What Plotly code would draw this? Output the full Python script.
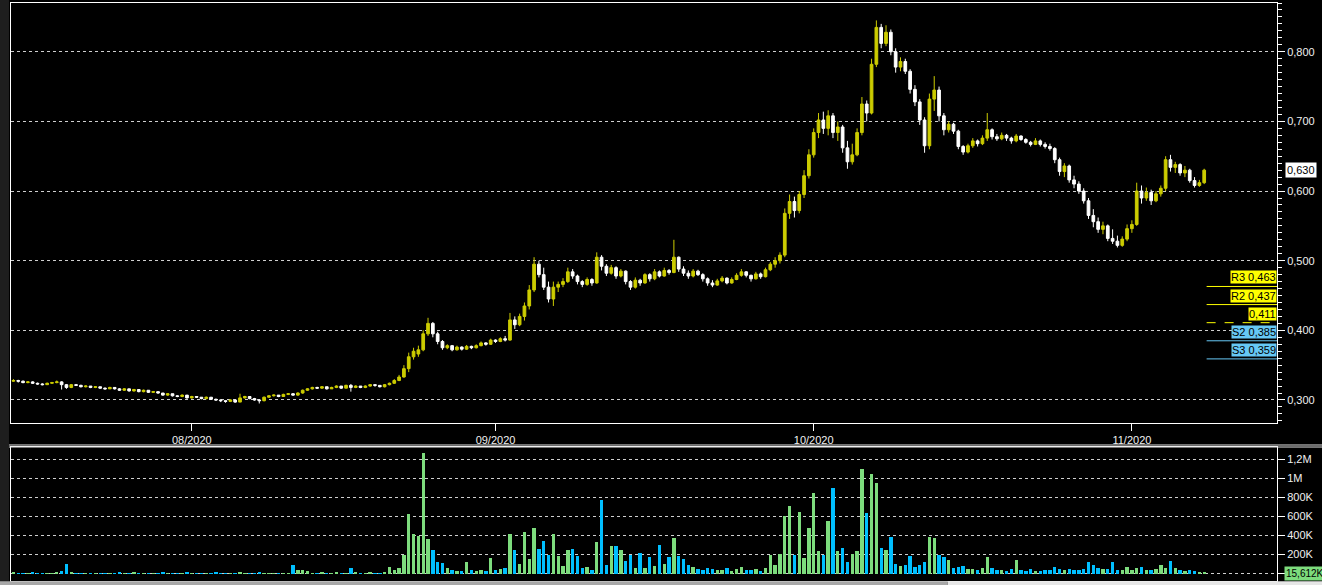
import plotly.graph_objects as go

# ---------------- data ----------------
opens = [
    0.327, 0.328, 0.327, 0.325, 0.326, 0.324, 0.323, 0.322, 0.324, 0.325,
    0.326, 0.322, 0.318, 0.322, 0.321, 0.319, 0.320, 0.318, 0.319, 0.317,
    0.316, 0.318, 0.316, 0.314, 0.316, 0.313, 0.315, 0.312, 0.314, 0.311,
    0.312, 0.310, 0.307, 0.309, 0.306, 0.305, 0.307, 0.303, 0.305, 0.304,
    0.302, 0.304, 0.301, 0.300, 0.299, 0.298, 0.300, 0.297, 0.303, 0.305,
    0.302, 0.300, 0.299, 0.304, 0.306, 0.307, 0.305, 0.308, 0.309, 0.307,
    0.310, 0.314, 0.316, 0.318, 0.317, 0.319, 0.316, 0.318, 0.320, 0.317,
    0.321, 0.318, 0.320, 0.318, 0.320, 0.322, 0.321, 0.319, 0.322, 0.324,
    0.328, 0.333, 0.345, 0.362, 0.366, 0.372, 0.395, 0.410, 0.395, 0.384,
    0.375, 0.378, 0.372, 0.376, 0.373, 0.377, 0.375, 0.378, 0.382, 0.380,
    0.386, 0.384, 0.388, 0.386, 0.415, 0.408, 0.420, 0.435, 0.458, 0.495,
    0.480, 0.462, 0.445, 0.462, 0.466, 0.470, 0.484, 0.478, 0.470, 0.466,
    0.473, 0.468, 0.505, 0.492, 0.482, 0.490, 0.478, 0.485, 0.470, 0.462,
    0.472, 0.468, 0.480, 0.474, 0.484, 0.478, 0.486, 0.483, 0.505, 0.488,
    0.482, 0.478, 0.485, 0.480, 0.474, 0.468, 0.465, 0.471, 0.475, 0.468,
    0.473, 0.479, 0.484, 0.479, 0.474, 0.481, 0.477, 0.487, 0.495, 0.500,
    0.508, 0.568, 0.585, 0.572, 0.595, 0.622, 0.652, 0.684, 0.702, 0.690,
    0.708, 0.684, 0.692, 0.662, 0.642, 0.652, 0.684, 0.725, 0.712, 0.782,
    0.835, 0.812, 0.828, 0.800, 0.778, 0.786, 0.772, 0.746, 0.728, 0.702,
    0.665, 0.732, 0.745, 0.708, 0.688, 0.696, 0.686, 0.664, 0.656, 0.665,
    0.672, 0.668, 0.676, 0.688, 0.678, 0.675, 0.680, 0.676, 0.672, 0.679,
    0.674, 0.670, 0.667, 0.672, 0.667, 0.664, 0.661, 0.645, 0.628, 0.636,
    0.616, 0.610, 0.600, 0.586, 0.565, 0.556, 0.545, 0.550, 0.532, 0.528,
    0.522, 0.531, 0.546, 0.552, 0.600, 0.590, 0.598, 0.586, 0.596, 0.604,
    0.645, 0.634, 0.638, 0.626, 0.630, 0.615, 0.608, 0.612,
]
highs = [
    0.330, 0.329, 0.328, 0.327, 0.327, 0.325, 0.324, 0.325, 0.326, 0.328,
    0.327, 0.323, 0.323, 0.323, 0.322, 0.321, 0.320, 0.320, 0.319, 0.318,
    0.319, 0.318, 0.317, 0.317, 0.316, 0.316, 0.315, 0.315, 0.314, 0.313,
    0.312, 0.310, 0.310, 0.309, 0.307, 0.308, 0.307, 0.306, 0.305, 0.304,
    0.305, 0.304, 0.302, 0.301, 0.299, 0.301, 0.300, 0.309, 0.306, 0.305,
    0.303, 0.301, 0.305, 0.307, 0.308, 0.307, 0.309, 0.310, 0.310, 0.311,
    0.315, 0.317, 0.319, 0.319, 0.320, 0.319, 0.319, 0.321, 0.320, 0.322,
    0.323, 0.321, 0.320, 0.321, 0.323, 0.322, 0.321, 0.323, 0.325, 0.330,
    0.336, 0.350, 0.368, 0.375, 0.378, 0.400, 0.418, 0.412, 0.398, 0.386,
    0.380, 0.379, 0.378, 0.377, 0.379, 0.378, 0.380, 0.384, 0.383, 0.388,
    0.387, 0.390, 0.392, 0.425, 0.420, 0.424, 0.440, 0.465, 0.505, 0.500,
    0.490, 0.470, 0.470, 0.470, 0.475, 0.490, 0.488, 0.480, 0.472, 0.476,
    0.475, 0.512, 0.508, 0.495, 0.494, 0.492, 0.488, 0.486, 0.472, 0.476,
    0.474, 0.482, 0.482, 0.488, 0.486, 0.490, 0.488, 0.530, 0.506, 0.492,
    0.486, 0.488, 0.487, 0.482, 0.476, 0.472, 0.474, 0.478, 0.476, 0.476,
    0.482, 0.488, 0.485, 0.480, 0.484, 0.483, 0.490, 0.498, 0.505, 0.512,
    0.575, 0.595, 0.592, 0.600, 0.630, 0.660, 0.690, 0.712, 0.714, 0.716,
    0.712, 0.700, 0.695, 0.672, 0.668, 0.690, 0.735, 0.730, 0.790, 0.845,
    0.840, 0.838, 0.832, 0.805, 0.792, 0.790, 0.775, 0.752, 0.732, 0.706,
    0.740, 0.765, 0.750, 0.712, 0.700, 0.698, 0.688, 0.666, 0.668, 0.676,
    0.674, 0.680, 0.712, 0.690, 0.682, 0.684, 0.682, 0.678, 0.682, 0.680,
    0.676, 0.672, 0.676, 0.674, 0.670, 0.668, 0.663, 0.648, 0.640, 0.638,
    0.622, 0.614, 0.604, 0.590, 0.574, 0.562, 0.556, 0.552, 0.545, 0.536,
    0.535, 0.552, 0.558, 0.612, 0.608, 0.605, 0.602, 0.600, 0.608, 0.650,
    0.652, 0.642, 0.640, 0.636, 0.632, 0.620, 0.616, 0.632,
]
lows = [
    0.326, 0.325, 0.324, 0.324, 0.323, 0.322, 0.321, 0.322, 0.323, 0.324,
    0.315, 0.316, 0.317, 0.320, 0.318, 0.318, 0.317, 0.317, 0.316, 0.315,
    0.316, 0.315, 0.313, 0.313, 0.312, 0.312, 0.311, 0.311, 0.310, 0.310,
    0.309, 0.306, 0.306, 0.305, 0.304, 0.304, 0.302, 0.302, 0.303, 0.301,
    0.301, 0.300, 0.299, 0.297, 0.296, 0.297, 0.296, 0.297, 0.302, 0.301,
    0.299, 0.295, 0.298, 0.303, 0.305, 0.304, 0.305, 0.307, 0.306, 0.306,
    0.309, 0.313, 0.315, 0.316, 0.316, 0.315, 0.316, 0.317, 0.316, 0.317,
    0.312, 0.317, 0.317, 0.317, 0.319, 0.319, 0.318, 0.318, 0.321, 0.323,
    0.327, 0.332, 0.340, 0.358, 0.362, 0.370, 0.392, 0.390, 0.380, 0.372,
    0.373, 0.370, 0.371, 0.371, 0.372, 0.373, 0.374, 0.377, 0.378, 0.379,
    0.382, 0.383, 0.384, 0.385, 0.402, 0.406, 0.414, 0.430, 0.455, 0.476,
    0.458, 0.440, 0.435, 0.455, 0.462, 0.468, 0.474, 0.466, 0.462, 0.464,
    0.464, 0.467, 0.486, 0.478, 0.480, 0.474, 0.476, 0.466, 0.458, 0.460,
    0.464, 0.467, 0.470, 0.472, 0.476, 0.477, 0.480, 0.482, 0.484, 0.478,
    0.474, 0.476, 0.478, 0.470, 0.464, 0.462, 0.464, 0.469, 0.466, 0.467,
    0.472, 0.477, 0.476, 0.470, 0.473, 0.474, 0.476, 0.485, 0.490, 0.496,
    0.505, 0.560, 0.562, 0.568, 0.590, 0.618, 0.648, 0.676, 0.682, 0.680,
    0.676, 0.672, 0.655, 0.632, 0.638, 0.650, 0.680, 0.700, 0.710, 0.778,
    0.805, 0.808, 0.795, 0.770, 0.772, 0.768, 0.740, 0.722, 0.695, 0.655,
    0.660, 0.715, 0.700, 0.680, 0.684, 0.682, 0.660, 0.652, 0.654, 0.662,
    0.664, 0.666, 0.672, 0.674, 0.672, 0.673, 0.672, 0.668, 0.670, 0.672,
    0.668, 0.664, 0.666, 0.664, 0.661, 0.658, 0.640, 0.622, 0.620, 0.612,
    0.604, 0.596, 0.582, 0.560, 0.548, 0.540, 0.538, 0.528, 0.524, 0.519,
    0.520, 0.528, 0.540, 0.550, 0.582, 0.586, 0.580, 0.584, 0.592, 0.600,
    0.628, 0.626, 0.622, 0.620, 0.612, 0.605, 0.606, 0.610,
]
closes = [
    0.328, 0.327, 0.325, 0.326, 0.324, 0.323, 0.322, 0.324, 0.325, 0.326,
    0.322, 0.318, 0.322, 0.321, 0.319, 0.320, 0.318, 0.319, 0.317, 0.316,
    0.318, 0.316, 0.314, 0.316, 0.313, 0.315, 0.312, 0.314, 0.311, 0.312,
    0.310, 0.307, 0.309, 0.306, 0.305, 0.307, 0.303, 0.305, 0.304, 0.302,
    0.304, 0.301, 0.300, 0.299, 0.298, 0.300, 0.297, 0.303, 0.305, 0.302,
    0.300, 0.299, 0.304, 0.306, 0.307, 0.305, 0.308, 0.309, 0.307, 0.310,
    0.314, 0.316, 0.318, 0.317, 0.319, 0.316, 0.318, 0.320, 0.317, 0.321,
    0.318, 0.320, 0.318, 0.320, 0.322, 0.321, 0.319, 0.322, 0.324, 0.328,
    0.333, 0.345, 0.362, 0.370, 0.372, 0.395, 0.410, 0.395, 0.384, 0.375,
    0.378, 0.372, 0.376, 0.373, 0.377, 0.375, 0.378, 0.382, 0.380, 0.386,
    0.384, 0.388, 0.386, 0.415, 0.408, 0.420, 0.435, 0.458, 0.495, 0.480,
    0.462, 0.445, 0.462, 0.466, 0.470, 0.484, 0.478, 0.470, 0.466, 0.473,
    0.468, 0.505, 0.492, 0.482, 0.490, 0.478, 0.485, 0.470, 0.462, 0.472,
    0.468, 0.480, 0.474, 0.484, 0.478, 0.486, 0.483, 0.505, 0.488, 0.482,
    0.478, 0.485, 0.480, 0.474, 0.468, 0.465, 0.471, 0.475, 0.468, 0.473,
    0.479, 0.484, 0.479, 0.474, 0.481, 0.477, 0.487, 0.495, 0.500, 0.508,
    0.568, 0.585, 0.572, 0.595, 0.622, 0.652, 0.684, 0.702, 0.690, 0.708,
    0.684, 0.692, 0.662, 0.642, 0.652, 0.684, 0.725, 0.712, 0.782, 0.835,
    0.812, 0.828, 0.800, 0.778, 0.786, 0.772, 0.746, 0.728, 0.702, 0.665,
    0.732, 0.745, 0.708, 0.688, 0.696, 0.686, 0.664, 0.656, 0.665, 0.672,
    0.668, 0.676, 0.688, 0.678, 0.675, 0.680, 0.676, 0.672, 0.679, 0.674,
    0.670, 0.667, 0.672, 0.667, 0.664, 0.661, 0.645, 0.628, 0.636, 0.616,
    0.610, 0.600, 0.586, 0.565, 0.556, 0.545, 0.550, 0.532, 0.528, 0.522,
    0.531, 0.546, 0.552, 0.600, 0.590, 0.598, 0.586, 0.596, 0.604, 0.645,
    0.634, 0.638, 0.626, 0.630, 0.615, 0.608, 0.612, 0.630,
]
volumes_k = [
    15, 8, 10, 6, 12, 5, 7, 9, 6, 14,
    30, 105, 12, 8, 10, 6, 9, 5, 11, 7,
    10, 8, 12, 6, 9, 14, 8, 6, 10, 5,
    8, 12, 7, 9, 6, 10, 14, 8, 6, 11,
    9, 7, 12, 8, 10, 6, 9, 20, 8, 10,
    7, 12, 9, 6, 8, 11, 7, 10, 85, 40,
    35, 25, 10, 8, 12, 9, 6, 14, 10, 8,
    60, 12, 7, 9, 14, 10, 8, 18, 70, 40,
    60, 200, 625, 415, 390, 1270, 360, 250, 120, 110,
    60, 40, 30, 25, 120, 35, 30, 40, 25, 160,
    40, 50, 60, 415, 250, 100, 440, 150, 480, 260,
    340, 190, 420, 180, 80, 250, 260, 180, 60, 70,
    40, 330, 770, 90, 290, 290, 250, 130, 200, 60,
    220, 60, 170, 80, 300, 100, 170, 370, 180, 150,
    90, 70, 50, 40, 60, 45, 35, 40, 55, 30,
    45, 70, 40, 35, 50, 30, 60, 200, 90, 210,
    600, 705, 200, 645, 160, 480, 845, 240, 190, 550,
    900, 240, 265, 120, 210, 240, 1100, 640, 1050, 950,
    270, 250, 380, 100, 80, 90, 180, 70, 90, 120,
    380, 370, 200, 170, 140, 60, 70, 80, 50, 45,
    40, 55, 170, 60, 35, 40, 30, 45, 140, 35,
    30, 45, 25, 30, 35, 40, 65, 50, 40, 45,
    35, 40, 50, 120, 95, 60, 45, 50, 120, 40,
    35, 65, 40, 55, 70, 40, 35, 45, 90, 60,
    135, 55, 40, 30, 35, 25, 20, 15.612,
]
month_ticks = [37, 100, 166, 232]
month_labels = ["08/2020", "09/2020", "10/2020", "11/2020"]
level_names = ["R3", "R2", "", "S2", "S3"]
level_values = [0.463, 0.437, 0.411, 0.385, 0.359]
vol_ticks = [0, 200, 400, 600, 800, 1000, 1200]
vol_tick_labels = ["", "200K", "400K", "600K", "800K", "1M", "1,2M"]

# ---------------- styling ----------------
UP = "#cccc00"
DOWN = "#ffffff"
VUP = "#7ddc7d"
VDOWN = "#00bfff"
GRID = "#cfcfcf"
LEVEL_R = "#ffff00"
LEVEL_S = "#66c8f5"
FONT = "Liberation Sans, Arial, sans-serif"

N = len(closes)
idx = list(range(N))
vcolors = [VUP if c >= o else VDOWN for o, c in zip(opens, closes)]
XR = [-0.5, 262.1]

fig = go.Figure()
fig.add_trace(go.Candlestick(
    x=idx, open=opens, high=highs, low=lows, close=closes,
    xaxis="x", yaxis="y", whiskerwidth=0, hoverinfo="skip", showlegend=False,
    increasing=dict(line=dict(color=UP, width=1), fillcolor=UP),
    decreasing=dict(line=dict(color=DOWN, width=1), fillcolor=DOWN),
))
fig.add_trace(go.Bar(
    x=idx, y=volumes_k, xaxis="x2", yaxis="y2", width=0.7,
    marker=dict(color=vcolors, line=dict(width=0)), hoverinfo="skip", showlegend=False,
))

shapes = []
annotations = []
for name, val in zip(level_names, level_values):
    is_r = name.startswith("R") or name == ""
    col = LEVEL_R if is_r else LEVEL_S
    shapes.append(dict(type="line", xref="x", yref="y", x0=N - 0.5, x1=XR[1], y0=val, y1=val,
                       line=dict(color=col, width=1, dash="dash" if name == "" else "solid")))
    label = (name + " " if name else "") + f"{val:.3f}".replace(".", ",")
    annotations.append(dict(x=1, xref="paper", xanchor="right", y=val, yref="y", yanchor="bottom",
                            yshift=2, text=label, showarrow=False, bgcolor=col, borderpad=0,
                            font=dict(color="black", size=11, family=FONT)))

# last price / last volume markers on the right axes
annotations.append(dict(x=1, xref="paper", xanchor="left", xshift=8, y=closes[-1], yref="y",
                        yanchor="middle", text=f"{closes[-1]:.3f}".replace(".", ","), showarrow=False,
                        bgcolor="white", borderpad=1, font=dict(color="black", size=11, family=FONT)))
annotations.append(dict(x=1, xref="paper", xanchor="left", xshift=7, y=0, yref="y2",
                        yanchor="middle", text=f"{volumes_k[-1]:.3f}K".replace(".", ","), showarrow=False,
                        bgcolor=VUP, borderpad=1, font=dict(color="black", size=10, family=FONT)))

# window chrome: left strip, panel separators, bottom scroll bar
shapes += [
    dict(type="rect", xref="paper", yref="paper", x0=-0.0095, x1=-0.0016, y0=-0.01, y1=1.01,
         fillcolor="#1e1e1e", line=dict(width=0), layer="above"),
    dict(type="line", xref="paper", yref="paper", x0=-0.0016, x1=1.04, y0=0.2353, y1=0.2353,
         line=dict(color="#e0e0e0", width=1)),
    dict(type="line", xref="paper", yref="paper", x0=-0.0016, x1=1.04, y0=0.2318, y1=0.2318,
         line=dict(color="#e0e0e0", width=1)),
    dict(type="rect", xref="paper", yref="paper", x0=-0.0095, x1=0.74, y0=-0.0075, y1=-0.0005,
         fillcolor="#a8a8a8", line=dict(width=0)),
    dict(type="rect", xref="paper", yref="paper", x0=0.74, x1=1.04, y0=-0.0075, y1=-0.0005,
         fillcolor="#e6e6e6", line=dict(width=0)),
]

axis_common = dict(showline=True, linecolor="white", linewidth=1, mirror=True, zeroline=False)

fig.update_layout(
    width=1322, height=585,
    margin=dict(l=11, r=45, t=3, b=4, autoexpand=False),
    paper_bgcolor="black", plot_bgcolor="black",
    separators=",.",
    font=dict(family=FONT, size=11, color="#f0f0f0"),
    showlegend=False, bargap=0, boxgap=0.2,
    xaxis=dict(domain=[0, 1], range=XR, anchor="y", tickmode="array", tickvals=month_ticks,
               ticktext=month_labels, ticks="outside", ticklen=7, tickcolor="white",
               showgrid=False, rangeslider=dict(visible=False), **axis_common),
    yaxis=dict(domain=[0.2734, 1], range=[0.267, 0.870], side="right", anchor="x",
               tick0=0, dtick=0.1, tickformat=".3f", ticks="outside", ticklen=7, tickcolor="white",
               showgrid=True, gridcolor=GRID, gridwidth=1, griddash="3px,3px",
               minor=dict(dtick=0.01, ticks="outside", ticklen=4, tickcolor="white", showgrid=False),
               **axis_common),
    xaxis2=dict(domain=[0, 1], range=XR, anchor="y2", showticklabels=False, ticks="",
                showgrid=False, **axis_common),
    yaxis2=dict(domain=[0, 0.2318], range=[-78, 1330], side="right", anchor="x2",
                tickmode="array", tickvals=vol_ticks, ticktext=vol_tick_labels,
                ticks="outside", ticklen=7, tickcolor="white",
                showgrid=True, gridcolor=GRID, gridwidth=1, griddash="3px,3px", **axis_common),
    shapes=shapes,
    annotations=annotations,
)

fig.write_html(
    "out.html",
    config={"displayModeBar": False, "staticPlot": True},
    post_script="document.body.style.margin='0px';document.body.style.background='black';",
)
